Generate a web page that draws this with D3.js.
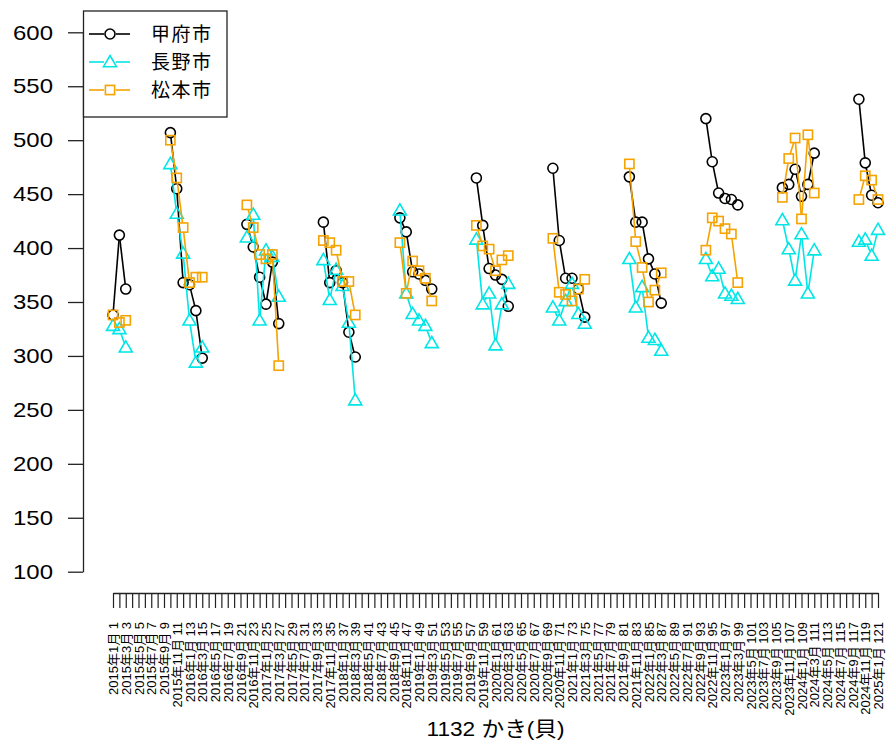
<!DOCTYPE html>
<html><head><meta charset="utf-8">
<script src="https://cdn.jsdelivr.net/npm/d3@7"></script>
<style>
html,body{margin:0;padding:0;background:#fff;}
text{font-family:"Liberation Sans","Noto Sans CJK JP",Arial,sans-serif;fill:#000;}
</style></head>
<body><svg id="chart" width="886" height="744"></svg>
<script>
// x positions (month index, 1 = 2015年1月)
const xIndex = [1,2,3,
  10,11,12,13,14,15,
  22,23,24,25,26,27,
  34,35,36,37,38,39,
  46,47,48,49,50,51,
  58,59,60,61,62,63,
  70,71,72,73,74,75,
  82,83,84,85,86,87,
  94,95,96,97,98,99,
  106,107,108,109,110,111,
  118,119,120,121];
const kofu = [338,412,362,
  507,455,368,366,342,298,
  422,401,373,348,387,330,
  424,368,379,368,322,299,
  428,415,378,376,370,362,
  465,421,381,375,371,346,
  474,407,372,372,362,336,
  466,424,424,390,376,349,
  520,480,451,446,445,440,
  456,459,473,448,459,488,
  538,479,449,442];
const nagano = [328,325,308,
  478,432,395,333,294,308,
  410,431,333,398,392,355,
  389,352,380,365,331,259,
  435,358,339,333,328,312,
  408,348,358,310,348,367,
  345,333,351,367,339,330,
  390,345,364,317,315,305,
  390,374,381,358,356,353,
  426,399,370,413,358,398,
  406,408,393,417];
const matsumoto = [338,331,333,
  500,465,419,368,373,373,
  440,419,394,390,394,291,
  407,405,398,369,369,338,
  405,358,388,379,372,351,
  421,402,399,379,389,393,
  409,359,357,351,362,371,
  478,406,382,350,361,377,
  398,428,425,418,413,368,
  447,483,502,427,505,451,
  445,467,463,445];
const seriesNames = ["甲府市","長野市","松本市"];
const seriesColors = ["#000000","#00e5e5","#f5a300"];
const seriesShapes = ["circle","triangle","square"];
const yTicks = [100,150,200,250,300,350,400,450,500,550,600];
const xTitle = "1132 かき(貝)";
const nMonths = 121;

const svg = d3.select("#chart");
const x = d3.scaleLinear().domain([1, nMonths]).range([113, 878]);
const y = d3.scaleLinear().domain([100, 600]).range([571.7, 32.3]);
const stretch = 1.14;

// y axis
const yAxis = d3.axisLeft(y).tickValues(yTicks).tickSize(15).tickPadding(15).tickSizeOuter(0).tickFormat(d3.format("d"));
const gy = svg.append("g").attr("transform","translate(83,0)").call(yAxis);
gy.select(".domain").attr("stroke","#222").attr("stroke-width",1.3);
gy.selectAll(".tick line").attr("stroke","#222").attr("stroke-width",1.3);
gy.selectAll(".tick text").attr("font-size",21).attr("font-family","Liberation Sans, Arial, sans-serif").attr("fill","#111")
  .each(function(){ const w = this.getComputedTextLength(); d3.select(this).attr("textLength", w*stretch).attr("lengthAdjust","spacingAndGlyphs"); });

// x axis
const monthIdx = d3.range(1, nMonths+1);
const label = i => { const y0 = 2015 + Math.floor((i-1)/12); const m = ((i-1)%12)+1; return `${y0}年${m}月 ${i}`; };
const xAxis = d3.axisBottom(x).tickValues(monthIdx).tickSize(15).tickSizeOuter(0).tickFormat(i => i % 2 === 1 ? label(i) : "");
const gx = svg.append("g").attr("transform","translate(0,593)").call(xAxis);
gx.select(".domain").attr("stroke","#222").attr("stroke-width",1.3);
gx.selectAll(".tick line").attr("stroke","#222").attr("stroke-width",1.2);
gx.selectAll(".tick text")
  .attr("font-size",13)
  .attr("fill","#222")
  .attr("text-anchor","end")
  .attr("transform","rotate(-90)")
  .attr("x",-29).attr("y",0).attr("dy","0.35em");

svg.append("text").attr("x",(x(1)+x(nMonths))/2).attr("y",736).attr("text-anchor","middle")
  .attr("font-size",21).attr("fill","#222").attr("textLength",138).attr("lengthAdjust","spacingAndGlyphs").text(xTitle);

// markers
function drawMarker(g, shape, cx, cy, color) {
  if (shape === "circle") {
    g.append("circle").attr("cx",cx).attr("cy",cy).attr("r",5).attr("fill","none").attr("stroke",color).attr("stroke-width",1.6);
  } else if (shape === "triangle") {
    const s = 6.5;
    g.append("path").attr("d",`M${cx},${cy-s}L${cx+s*1.0},${cy+s*0.72}L${cx-s*1.0},${cy+s*0.72}Z`)
      .attr("fill","none").attr("stroke",color).attr("stroke-width",1.6);
  } else {
    const s = 4.6;
    g.append("rect").attr("x",cx-s).attr("y",cy-s).attr("width",2*s).attr("height",2*s)
      .attr("fill","none").attr("stroke",color).attr("stroke-width",1.6);
  }
}
const gap = 5;
function drawSeries(values, k) {
  const g = svg.append("g");
  const color = seriesColors[k];
  const pts = xIndex.map((xi, j) => ({xi, v: values[j]}));
  for (let j = 1; j < pts.length; j++) {
    const a = pts[j-1], b = pts[j];
    if (b.xi - a.xi !== 1) continue;
    const x1 = x(a.xi), y1 = y(a.v), x2 = x(b.xi), y2 = y(b.v);
    const len = Math.hypot(x2-x1, y2-y1);
    if (len <= 2*gap) continue;
    const ux = (x2-x1)/len, uy = (y2-y1)/len;
    g.append("line").attr("x1",x1+ux*gap).attr("y1",y1+uy*gap).attr("x2",x2-ux*gap).attr("y2",y2-uy*gap)
      .attr("stroke",color).attr("stroke-width",1.6);
  }
  pts.forEach(p => drawMarker(g, seriesShapes[k], x(p.xi), y(p.v), color));
}
[kofu, nagano, matsumoto].forEach((vals, k) => drawSeries(vals, k));

// legend
const lg = svg.append("g");
lg.append("rect").attr("x",83.5).attr("y",11).attr("width",143.5).attr("height",106)
  .attr("fill","#fff").attr("stroke","#222").attr("stroke-width",1.3);
const legendY = [34, 62, 90];
seriesNames.forEach((name, k) => {
  const cy = legendY[k], color = seriesColors[k];
  lg.append("line").attr("x1",89).attr("x2",104).attr("y1",cy).attr("y2",cy).attr("stroke",color).attr("stroke-width",1.6);
  lg.append("line").attr("x1",116).attr("x2",130).attr("y1",cy).attr("y2",cy).attr("stroke",color).attr("stroke-width",1.6);
  drawMarker(lg, seriesShapes[k], 110, cy, color);
  lg.append("text").attr("x",151).attr("y",cy).attr("dy","0.36em").attr("font-size",19)
    .attr("font-family","Noto Sans CJK JP, sans-serif").attr("letter-spacing",1.5).text(name);
});
</script></body></html>
